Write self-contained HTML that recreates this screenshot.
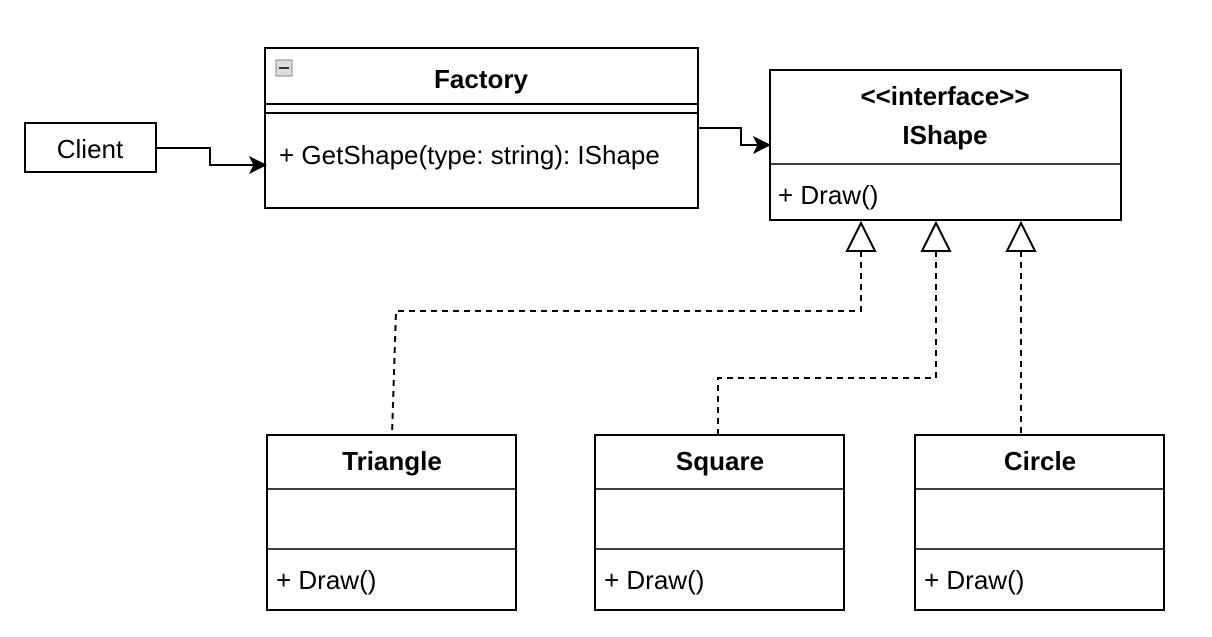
<!DOCTYPE html>
<html><head><style>body{margin:0;background:#fff}svg{display:block}text{font-family:"Liberation Sans",sans-serif;fill:#000}</style></head>
<body>
<svg width="1212" height="637" viewBox="0 0 1212 637" xmlns="http://www.w3.org/2000/svg">
<g stroke="#000" stroke-width="2" fill="none">
<rect x="25" y="123" width="131" height="49"/>
<rect x="265" y="48" width="433" height="160"/>
<line x1="265" y1="104" x2="698" y2="104"/>
<line x1="265" y1="113" x2="698" y2="113"/>
<rect x="770" y="70" width="351" height="150"/>
<line x1="770" y1="164" x2="1121" y2="164" stroke-width="1.5"/>
<rect x="267" y="435" width="249" height="175"/>
<line x1="267" y1="489" x2="516" y2="489" stroke-width="1.5"/>
<line x1="267" y1="549" x2="516" y2="549" stroke-width="1.5"/>
<rect x="595" y="435" width="249" height="175"/>
<line x1="595" y1="489" x2="844" y2="489" stroke-width="1.5"/>
<line x1="595" y1="549" x2="844" y2="549" stroke-width="1.5"/>
<rect x="915" y="435" width="249" height="175"/>
<line x1="915" y1="489" x2="1164" y2="489" stroke-width="1.5"/>
<line x1="915" y1="549" x2="1164" y2="549" stroke-width="1.5"/>
<polyline points="156,148 210,148 210,165 254,165"/>
<polyline points="698,128 741,128 741,145 760,145"/>
<g stroke-dasharray="6,5">
<polyline points="861,251 861,311 396,311 392,435"/>
<polyline points="936,251 936,378 718,378 718,435"/>
<polyline points="1021,251 1021,435"/>
</g>
<polygon points="861,223 847,251 875,251" fill="#fff"/>
<polygon points="936,223 922,251 950,251" fill="#fff"/>
<polygon points="1021,223 1007,251 1035,251" fill="#fff"/>
</g>
<polygon points="266,165 250,157 254,165 250,173" fill="#000" stroke="#000" stroke-width="1"/>
<polygon points="770,145 754,137 758,145 754,153" fill="#000" stroke="#000" stroke-width="1"/>
<rect x="276" y="60" width="16" height="16" fill="#ddd" stroke="#888"/>
<line x1="279" y1="68" x2="289" y2="68" stroke="#333" stroke-width="2"/>
<g font-size="26">
<text x="90" y="158" text-anchor="middle">Client</text>
<text x="481" y="88" font-weight="bold" text-anchor="middle">Factory</text>
<text x="279" y="164">+ GetShape(type: string): IShape</text>
<text x="945" y="105" font-weight="bold" text-anchor="middle">&lt;&lt;interface&gt;&gt;</text>
<text x="945" y="144" font-weight="bold" text-anchor="middle">IShape</text>
<text x="778" y="204">+ Draw()</text>
<text x="392" y="470" font-weight="bold" text-anchor="middle">Triangle</text>
<text x="720" y="470" font-weight="bold" text-anchor="middle">Square</text>
<text x="1040" y="470" font-weight="bold" text-anchor="middle">Circle</text>
<text x="276" y="589">+ Draw()</text>
<text x="604" y="589">+ Draw()</text>
<text x="924" y="589">+ Draw()</text>
</g>
</svg>
</body></html>
